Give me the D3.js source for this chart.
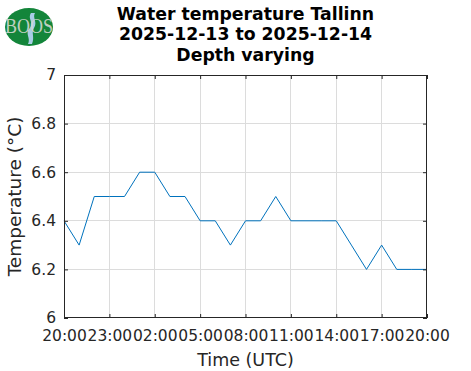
<!DOCTYPE html>
<html><head><meta charset="utf-8">
<script src="https://cdn.jsdelivr.net/npm/d3@7"></script>
<style>body{margin:0;background:#fff}svg{display:block}</style>
</head><body>
<script>
const titleLines = ["Water temperature Tallinn", "2025-12-13 to 2025-12-14", "Depth varying"];
const hours = ["20:00","21:00","22:00","23:00","00:00","01:00","02:00","03:00","04:00","05:00","06:00","07:00","08:00","09:00","10:00","11:00","12:00","13:00","14:00","15:00","16:00","17:00","18:00","19:00","20:00"];
const temps = [6.4,6.3,6.5,6.5,6.5,6.6,6.6,6.5,6.5,6.4,6.4,6.3,6.4,6.4,6.5,6.4,6.4,6.4,6.4,6.3,6.2,6.3,6.2,6.2,6.2];
const yTicks = [6,6.2,6.4,6.6,6.8,7];
const yTickLabels = ["6","6.2","6.4","6.6","6.8","7"];
const xTickLabels = ["20:00","23:00","02:00","05:00","08:00","11:00","14:00","17:00","20:00"];

const W = 471, H = 371;
const m = {l:64, r:427, t:75, b:318};
const start = new Date(Date.UTC(2025,11,13,20));
const times = hours.map((h,i)=> new Date(start.getTime() + i*3600e3));
const xTicks = xTickLabels.map((h,i)=> new Date(start.getTime() + i*3*3600e3));

const svg = d3.select("body").append("svg").attr("width",W).attr("height",H);
const x = d3.scaleUtc().domain([times[0], times[times.length-1]]).range([m.l, m.r]);
const y = d3.scaleLinear().domain([6,7]).range([m.b, m.t]);
const font = "DejaVu Sans, sans-serif";

// grid
const g = svg.append("g");
g.selectAll(".vg").data(xTicks.slice(1,-1)).join("line")
 .attr("x1",d=>x(d)).attr("x2",d=>x(d)).attr("y1",m.t).attr("y2",m.b)
 .attr("stroke","#dcdcdc").attr("stroke-width",1).attr("shape-rendering","crispEdges");
g.selectAll(".hg").data(yTicks.slice(1,-1)).join("line")
 .attr("x1",m.l).attr("x2",m.r).attr("y1",d=>y(d)).attr("y2",d=>y(d))
 .attr("stroke","#dcdcdc").attr("stroke-width",1).attr("shape-rendering","crispEdges");

// line
svg.append("path").datum(temps.map((v,i)=>[times[i],v]))
 .attr("d", d3.line().x(d=>x(d[0])).y(d=>y(d[1])))
 .attr("fill","none").attr("stroke","#0072BD").attr("stroke-width",1);

// axes
const tickFmt = (d,i)=>xTickLabels[i];
const xa = svg.append("g").attr("transform",`translate(0,${m.b})`)
 .call(d3.axisBottom(x).tickValues(xTicks).tickFormat(tickFmt).tickSizeInner(-4).tickSizeOuter(0).tickPadding(12));
const xt = svg.append("g").attr("transform",`translate(0,${m.t})`)
 .call(d3.axisTop(x).tickValues(xTicks).tickFormat("").tickSizeInner(-4).tickSizeOuter(0));
const ya = svg.append("g").attr("transform",`translate(${m.l},0)`)
 .call(d3.axisLeft(y).tickValues(yTicks).tickFormat((d,i)=>yTickLabels[i]).tickSizeInner(-4).tickSizeOuter(0).tickPadding(8));
const yr = svg.append("g").attr("transform",`translate(${m.r},0)`)
 .call(d3.axisRight(y).tickValues(yTicks).tickFormat("").tickSizeInner(-4).tickSizeOuter(0));
[xa,xt,ya,yr].forEach(a=>{
  a.select(".domain").remove();
  a.selectAll("line").attr("stroke","#262626");
  a.selectAll("text").attr("fill","#262626").style("font-family",font).style("font-size","15.5px");
});
xa.selectAll("text").attr("dy","0.71em");
svg.append("rect").attr("x",m.l+0.5).attr("y",m.t+0.5).attr("width",m.r-m.l-1).attr("height",m.b-m.t-1)
 .attr("fill","none").attr("stroke","#262626").attr("stroke-width",1);

// labels
svg.append("text").attr("x",(m.l+m.r)/2).attr("y",366).attr("text-anchor","middle")
 .style("font-family",font).style("font-size","17.5px").attr("fill","#262626").text("Time (UTC)");
svg.append("text").attr("transform",`translate(21,${(m.t+m.b)/2}) rotate(-90)`).attr("text-anchor","middle")
 .style("font-family",font).style("font-size","18.5px").attr("fill","#262626").text("Temperature (°C)");

// title
svg.selectAll(".title").data(titleLines).join("text")
 .attr("x",(m.l+m.r)/2).attr("y",(d,i)=>19.5+i*20.5).attr("text-anchor","middle")
 .style("font-family",font).style("font-size","17.3px").style("font-weight","bold").attr("fill","#000").text(d=>d);

// logo
const logo = svg.append("g");
logo.append("ellipse").attr("cx",29).attr("cy",27).attr("rx",24).attr("ry",19).attr("fill","#13853a");
logo.append("path").attr("d","M31,13 C27,19 35,23 29,29 C25,33 31,39 28,44 L32,44 C35,37 31,33 34,28 C38,22 32,18 35,13 Z").attr("fill","#a8cde6");
logo.append("text").attr("x",29).attr("y",33).attr("text-anchor","middle").attr("textLength",48).attr("lengthAdjust","spacingAndGlyphs")
 .style("font-family","Liberation Serif, serif").style("font-size","21px").attr("fill","#d0d8d0").attr("opacity",0.9).text("BOOS");
</script>
</body></html>
